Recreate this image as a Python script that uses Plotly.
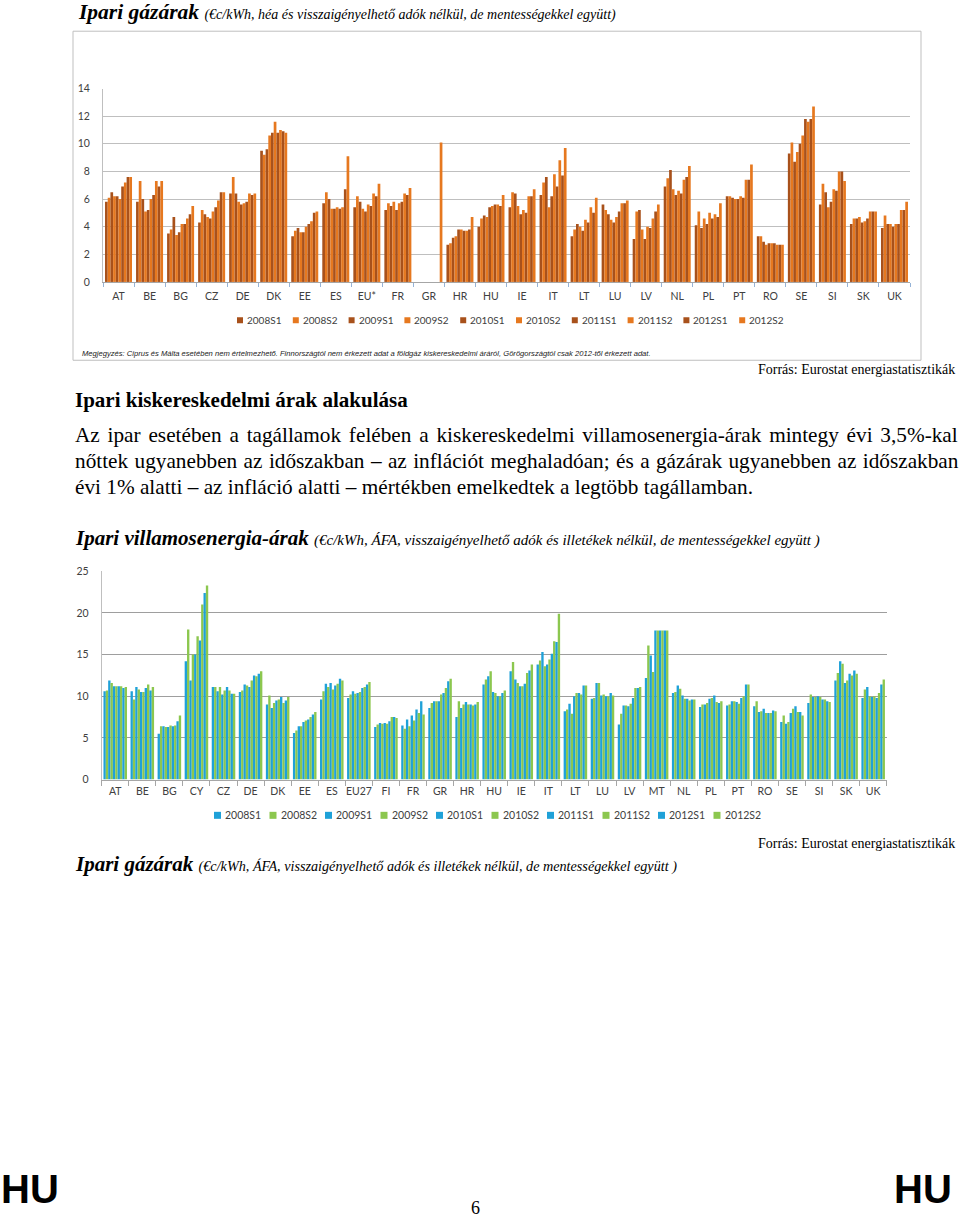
import plotly.graph_objects as go

W, H = 960, 1219
def X(px): return px / W
def Y(py):
    # compensate the small vertical offset/scale seen between page and picture
    page = (py - 5.8) / 0.99
    return 1 - page / H

# ---------------- data ----------------
periods = ["2008S1", "2008S2", "2009S1", "2009S2", "2010S1",
           "2010S2", "2011S1", "2011S2", "2012S1", "2012S2"]

# Ipari gázárak (€c/kWh) – top chart
gas_countries = ["AT", "BE", "BG", "CZ", "DE", "DK", "EE", "ES", "EU*", "FR", "GR", "HR", "HU",
                 "IE", "IT", "LT", "LU", "LV", "NL", "PL", "PT", "RO", "SE", "SI", "SK", "UK"]
gas_AT = [5.8, 6.1, 6.5, 6.2, 6.2, 6.0, 6.9, 7.2, 7.6, 7.6]
gas_BE = [5.8, 7.3, 6.0, 5.1, 5.2, 6.0, 6.3, 7.3, 6.9, 7.3]
gas_BG = [3.5, 3.8, 4.7, 3.4, 3.6, 4.2, 4.2, 4.6, 4.9, 5.5]
gas_CZ = [4.3, 5.2, 4.9, 4.7, 4.6, 5.1, 5.4, 5.9, 6.5, 6.5]
gas_DE = [6.4, 7.6, 6.4, 5.8, 5.6, 5.7, 5.8, 6.4, 6.3, 6.4]
gas_DK = [9.5, 9.2, 9.6, 10.6, 10.8, 11.6, 10.8, 11.0, 10.9, 10.8]
gas_EE = [3.3, 3.7, 3.9, 3.6, 3.6, 4.0, 4.2, 4.4, 5.0, 5.1]
gas_ES = [5.7, 6.5, 6.0, 5.3, 5.3, 5.4, 5.3, 5.4, 6.7, 9.1]
gas_EU = [5.4, 6.2, 5.8, 5.3, 5.1, 5.6, 5.5, 6.4, 6.2, 7.1]
gas_FR = [5.2, 5.7, 5.5, 5.8, 5.2, 5.7, 5.8, 6.4, 6.3, 6.8]
gas_GR = [None, None, None, None, None, None, None, None, None, 10.1]
gas_HR = [2.7, 2.8, 3.2, 3.3, 3.8, 3.8, 3.7, 3.7, 3.8, 4.7]
gas_HU = [4.0, 4.6, 4.8, 4.7, 5.4, 5.5, 5.6, 5.6, 5.5, 6.3]
gas_IE = [5.4, 6.5, 6.4, 5.5, 4.9, 5.2, 5.0, 6.2, 6.2, 6.7]
gas_IT = [6.3, 7.2, 7.6, 5.4, 6.2, 7.8, 6.9, 8.8, 7.7, 9.7]
gas_LT = [3.3, 3.8, 4.2, 4.0, 3.7, 4.5, 4.3, 5.4, 5.0, 6.1]
gas_LU = [5.6, 5.2, 4.9, 4.5, 4.3, 4.7, 5.1, 5.7, 5.7, 5.9]
gas_LV = [3.1, 5.1, 5.2, 3.8, 3.1, 4.0, 3.9, 4.6, 5.1, 5.6]
gas_NL = [6.9, 7.5, 8.1, 6.7, 6.3, 6.6, 6.4, 7.4, 7.6, 8.4]
gas_PL = [4.1, 5.1, 3.9, 4.6, 4.2, 5.0, 4.6, 4.9, 4.7, 5.7]
gas_PT = [6.2, 6.2, 6.1, 6.0, 6.0, 6.2, 6.1, 7.4, 7.4, 8.5]
gas_RO = [3.3, 3.3, 2.9, 2.7, 2.8, 2.8, 2.8, 2.7, 2.7, 2.7]
gas_SE = [9.3, 10.1, 8.7, 9.4, 10.0, 10.6, 11.8, 11.6, 11.8, 12.7]
gas_SI = [5.6, 7.1, 6.5, 5.4, 5.8, 6.7, 6.6, 8.0, 8.0, 7.3]
gas_SK = [4.2, 4.6, 4.6, 4.7, 4.3, 4.4, 4.6, 5.1, 5.1, 5.1]
gas_UK = [3.9, 4.8, 4.2, 4.2, 4.0, 4.2, 4.2, 5.2, 5.2, 5.8]
gas_rows = [gas_AT, gas_BE, gas_BG, gas_CZ, gas_DE, gas_DK, gas_EE, gas_ES, gas_EU, gas_FR,
            gas_GR, gas_HR, gas_HU, gas_IE, gas_IT, gas_LT, gas_LU, gas_LV, gas_NL, gas_PL,
            gas_PT, gas_RO, gas_SE, gas_SI, gas_SK, gas_UK]

# Ipari villamosenergia-árak (€c/kWh) – bottom chart
el_countries = ["AT", "BE", "BG", "CY", "CZ", "DE", "DK", "EE", "ES", "EU27", "FI", "FR", "GR",
                "HR", "HU", "IE", "IT", "LT", "LU", "LV", "MT", "NL", "PL", "PT", "RO", "SE",
                "SI", "SK", "UK"]
el_AT = [10.6, 10.7, 11.9, 11.6, 11.2, 11.2, 11.2, 11.2, 11.0, 11.1]
el_BE = [10.6, 9.6, 11.1, 10.8, 10.5, 10.5, 11.0, 11.4, 10.7, 11.1]
el_BG = [5.5, 6.4, 6.4, 6.3, 6.3, 6.5, 6.4, 6.5, 7.0, 7.7]
el_CY = [14.2, 18.0, 11.9, 15.0, 15.0, 17.2, 16.7, 21.0, 22.4, 23.3]
el_CZ = [11.1, 11.1, 10.6, 11.1, 10.2, 10.7, 11.1, 10.7, 10.3, 10.3]
el_DE = [10.5, 10.7, 11.4, 11.3, 11.1, 11.9, 12.5, 12.4, 12.7, 13.0]
el_DK = [9.0, 10.1, 8.6, 9.2, 9.5, 9.6, 9.9, 9.2, 9.5, 9.9]
el_EE = [5.6, 5.9, 6.4, 6.4, 6.9, 7.1, 7.2, 7.5, 7.8, 8.1]
el_ES = [9.6, 10.6, 11.5, 11.1, 11.6, 10.8, 11.3, 11.5, 12.1, 11.9]
el_EU = [9.8, 10.2, 10.6, 10.3, 10.4, 10.5, 11.0, 11.1, 11.4, 11.7]
el_FI = [6.3, 6.6, 6.8, 6.7, 6.8, 6.7, 7.0, 7.5, 7.5, 7.4]
el_FR = [6.5, 6.1, 7.2, 6.4, 7.7, 7.1, 8.4, 8.0, 9.4, 7.8]
el_GR = [8.6, 9.2, 9.4, 9.4, 9.4, 10.2, 10.4, 11.0, 11.8, 12.1]
el_HR = [7.5, 9.4, 8.6, 9.0, 9.3, 9.0, 9.0, 8.9, 9.0, 9.3]
el_HU = [11.4, 12.0, 12.4, 13.0, 10.5, 10.4, 10.0, 10.0, 10.4, 10.7]
el_IE = [13.0, 14.1, 12.0, 11.6, 11.2, 11.2, 11.5, 12.8, 13.1, 13.8]
el_IT = [13.8, 14.3, 15.3, 13.6, 13.8, 14.4, 15.1, 16.6, 16.5, 19.9]
el_LT = [8.2, 8.4, 9.1, 7.9, 10.0, 10.4, 10.4, 10.2, 11.3, 11.3]
el_LU = [9.7, 9.8, 11.6, 11.6, 10.1, 10.2, 10.0, 10.0, 10.4, 10.1]
el_LV = [6.6, 7.9, 8.9, 8.9, 8.8, 9.1, 9.8, 11.0, 11.0, 11.1]
el_MT = [12.2, 16.1, 14.9, 12.9, 17.9, 17.9, 17.9, 17.9, 17.9, 17.9]
el_NL = [10.4, 10.5, 11.3, 10.9, 10.1, 9.7, 9.7, 9.5, 9.6, 9.6]
el_PL = [8.7, 9.0, 9.0, 9.2, 9.7, 9.8, 10.1, 9.3, 9.2, 9.4]
el_PT = [8.9, 9.0, 9.4, 9.4, 9.3, 9.1, 9.8, 10.0, 11.4, 11.4]
el_RO = [8.8, 9.4, 8.1, 8.2, 8.5, 8.0, 8.0, 8.0, 8.3, 8.2]
el_SE = [6.9, 7.7, 6.7, 6.9, 8.0, 8.5, 8.8, 8.1, 8.1, 7.7]
el_SI = [9.2, 10.2, 9.9, 9.9, 10.0, 9.9, 9.6, 9.6, 9.4, 9.3]
el_SK = [11.9, 12.8, 14.2, 13.9, 11.6, 11.9, 12.7, 12.5, 13.1, 12.7]
el_UK = [9.8, 10.8, 11.1, 10.0, 9.9, 10.0, 9.8, 10.4, 11.4, 12.0]
el_rows = [el_AT, el_BE, el_BG, el_CY, el_CZ, el_DE, el_DK, el_EE, el_ES, el_EU, el_FI, el_FR,
           el_GR, el_HR, el_HU, el_IE, el_IT, el_LT, el_LU, el_LV, el_MT, el_NL, el_PL, el_PT,
           el_RO, el_SE, el_SI, el_SK, el_UK]

gas_colors = ["#A8511B", "#E6781F"] * 5
el_colors = ["#1FA1D8", "#8CC74F"] * 5

# ---------------- figure ----------------
fig = go.Figure()

for i, p in enumerate(periods):
    fig.add_trace(go.Bar(
        x=gas_countries, y=[row[i] for row in gas_rows], name=p,
        marker=dict(color=gas_colors[i], line=dict(width=0)),
        xaxis="x", yaxis="y", showlegend=False))
for i, p in enumerate(periods):
    fig.add_trace(go.Bar(
        x=el_countries, y=[row[i] for row in el_rows], name=p,
        marker=dict(color=el_colors[i], line=dict(width=0)),
        xaxis="x2", yaxis="y2", showlegend=False))

tickfont = dict(family="Lato, Open Sans, sans-serif", size=10.5, color="#404040")
serif = "Liberation Serif, Times New Roman, serif"

fig.update_layout(
    width=W, height=H, autosize=False,
    margin=dict(l=0, r=0, t=0, b=0),
    paper_bgcolor="white", plot_bgcolor="white",
    barmode="group", bargap=0.13, bargroupgap=0,
    xaxis=dict(domain=[X(103), X(910)], anchor="y", type="category",
               categoryorder="array", categoryarray=gas_countries,
               showline=True, linecolor="#A6A6A6", linewidth=1,
               ticks="outside", tickson="boundaries", ticklen=4, tickcolor="#95B3D7",
               showgrid=False, tickfont=tickfont, ticklabelstandoff=4, tickangle=0),
    yaxis=dict(domain=[Y(281.7), Y(88.3)], anchor="x", range=[0, 14], dtick=2,
               showline=True, linecolor="#BFBFBF", showgrid=True, gridcolor="#BFBFBF",
               gridwidth=1, zeroline=False, ticks="", tickfont=tickfont,
               ticklabelstandoff=10),
    xaxis2=dict(domain=[X(101.7), X(886.7)], anchor="y2", type="category",
                categoryorder="array", categoryarray=el_countries,
                showline=True, linecolor="#A6A6A6", linewidth=1,
                ticks="outside", tickson="boundaries", ticklen=5, tickcolor="#A6A6A6",
                showgrid=False, tickfont=tickfont, ticklabelstandoff=2, tickangle=0),
    yaxis2=dict(domain=[Y(779.3), Y(571)], anchor="x2", range=[0, 25], dtick=5,
                showline=True, linecolor="#BFBFBF", showgrid=True, gridcolor="#9E9E9E",
                gridwidth=1, zeroline=False, ticks="", tickfont=tickfont,
                ticklabelstandoff=10),
)

annotations = []
shapes = []

def text(px, py, s, size, family=serif, anchor="left", color="black"):
    annotations.append(dict(x=X(px), y=Y(py), xref="paper", yref="paper", text=s,
                            showarrow=False, xanchor=anchor, yanchor="middle",
                            font=dict(family=family, size=size, color=color)))

# titles & page text
text(76, 12, "<b><i>Ipari gázárak</i></b> <i><span style='font-size:14px'>(€c/kWh, héa és visszaigényelhető adók nélkül, de mentességekkel együtt)</span></i>", 21.5)
text(80, 353, "<i>Megjegyzés: Ciprus és Málta esetében nem értelmezhető. Finnországtól nem érkezett adat a földgáz kiskereskedelmi áráról, Görögországtól csak 2012-től érkezett adat.</i>",
     7.6, family="Liberation Sans, Arial, sans-serif", color="#222222")
text(957, 369, "Forrás: Eurostat energiastatisztikák", 14, anchor="right")
text(73, 400, "<b>Ipari kiskereskedelmi árak alakulása</b>", 21)
text(73, 435, "<span style='word-spacing:2.5px'>Az ipar esetében a tagállamok felében a kiskereskedelmi villamosenergia-árak mintegy évi 3,5%-kal</span>", 21.25)
text(73, 461, "<span style='word-spacing:1.1px'>nőttek ugyanebben az időszakban – az inflációt meghaladóan; és a gázárak ugyanebben az időszakban</span>", 21.25)
text(73, 487, "évi 1% alatti – az infláció alatti – mértékben emelkedtek a legtöbb tagállamban.", 21.25)
text(73, 538, "<b><i>Ipari villamosenergia-árak</i></b> <i><span style='font-size:15px'>(€c/kWh, ÁFA, visszaigényelhető adók és illetékek nélkül, de mentességekkel együtt )</span></i>", 21)
text(957, 843, "Forrás: Eurostat energiastatisztikák", 14, anchor="right")
text(73, 864, "<b><i>Ipari gázárak</i></b> <i><span style='font-size:14.2px'>(€c/kWh, ÁFA, visszaigényelhető adók és illetékek nélkül, de mentességekkel együtt )</span></i>", 21)
text(475, 1207.5, "6", 18, anchor="center")

# page footer marks, kept fully inside the page
for hx, anc in [(0, "left"), (953, "right")]:
    annotations.append(dict(x=X(hx), y=0.0005, xref="paper", yref="paper", text="<b>HU</b>",
                            showarrow=False, xanchor=anc, yanchor="bottom", borderpad=0,
                            font=dict(family="Liberation Sans, Arial, sans-serif", size=40,
                                      color="black")))

# frame around the top chart
shapes.append(dict(type="rect", xref="paper", yref="paper", x0=X(73), x1=X(921), y0=Y(360), y1=Y(31),
                   line=dict(color="#BFBFBF", width=1), fillcolor="rgba(0,0,0,0)"))

# legends (drawn as squares + labels)
legfont = "Lato, Open Sans, sans-serif"
for i, p in enumerate(periods):
    mx = 237 + 55.8 * i
    shapes.append(dict(type="rect", xref="paper", yref="paper", x0=X(mx), x1=X(mx + 6),
                       y0=Y(323), y1=Y(317), fillcolor=gas_colors[i], line=dict(width=0)))
    text(mx + 8, 320, p, 10, family=legfont, color="#404040")
for i, p in enumerate(periods):
    mx = 214 + 55.5 * i
    shapes.append(dict(type="rect", xref="paper", yref="paper", x0=X(mx), x1=X(mx + 7),
                       y0=Y(818.5), y1=Y(811.5), fillcolor=el_colors[i], line=dict(width=0)))
    text(mx + 9, 815, p, 10.5, family=legfont, color="#404040")

fig.update_layout(annotations=annotations, shapes=shapes)

fig.write_html("out.html", config={"displayModeBar": False},
               post_script="document.body.style.margin='0';")
